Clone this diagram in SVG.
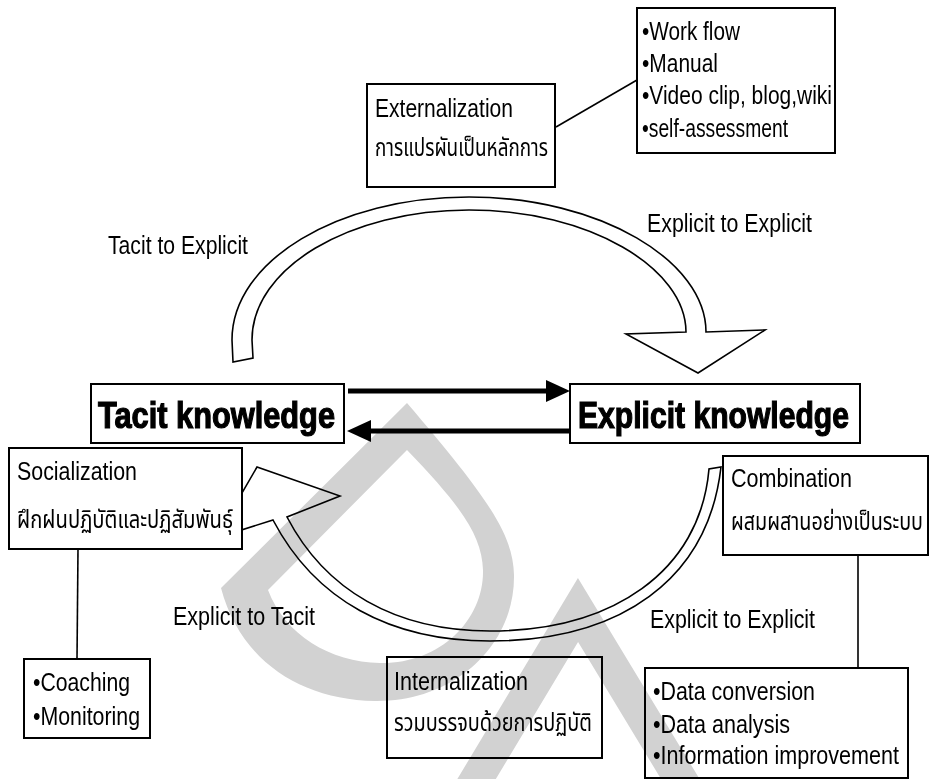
<svg xmlns="http://www.w3.org/2000/svg" width="929" height="779" viewBox="0 0 929 779">
<style>
.box{fill:#fff;stroke:#000;stroke-width:2}
.ln{fill:none;stroke:#000;stroke-width:1.6}
.band{fill:#fff;stroke:#000;stroke-width:1.6;stroke-linejoin:miter}
.t{font-family:"Liberation Sans Narrow","Liberation Sans",Arial,sans-serif;font-size:26px;fill:#000}
.th{font-family:"Noto Sans Thai","Noto Sans","DejaVu Sans","Liberation Sans",sans-serif;font-size:24px;fill:#000}
.big{font-family:"Liberation Sans",Arial,sans-serif;font-size:36px;font-weight:bold;fill:#000;stroke:#000;stroke-width:1.2}
.wm{fill:#d2d2d2;mix-blend-mode:multiply}
</style>
<rect width="929" height="779" fill="#fff"/>

<g id="connectors">
  <path class="band" d="M 233 362 L 232 340 C 232 261 338 197 469 197 C 600 197 706 261 706 332 L 765 330 L 698 373 L 626 334 L 686 332 C 686 268 589 210 469 210 C 349 210 252 268 252 340 L 253 358 Z"/>
  <path class="band" d="M 273 520 C 315 600 390 641 490 641 C 620 641 708 580 721 467 L 709 469 C 700 572 612 631 490 631 C 395 631 325 590 287 517 L 340 496 L 257 467 L 216 538 Z"/>
  <line x1="348" y1="391" x2="549" y2="391" stroke="#000" stroke-width="5"/>
  <polygon points="546,380 570,391 546,402" fill="#000"/>
  <line x1="569" y1="431" x2="368" y2="431" stroke="#000" stroke-width="5"/>
  <polygon points="371,420 347,431 371,442" fill="#000"/>
  <line class="ln" x1="556" y1="127" x2="637" y2="80"/>
  <line class="ln" x1="78" y1="549" x2="77" y2="659"/>
  <line class="ln" x1="858" y1="555" x2="858" y2="668"/>
</g>

<g id="labels">
  <text class="t" x="108" y="254" textLength="140" lengthAdjust="spacingAndGlyphs">Tacit to Explicit</text>
  <text class="t" x="647" y="232" textLength="165" lengthAdjust="spacingAndGlyphs">Explicit to Explicit</text>
  <text class="t" x="173" y="625" textLength="142" lengthAdjust="spacingAndGlyphs">Explicit to Tacit</text>
  <text class="t" x="650" y="628" textLength="165" lengthAdjust="spacingAndGlyphs">Explicit to Explicit</text>
</g>

<g id="node-tacit">
  <rect class="box" x="91" y="384" width="253" height="59"/>
  <text class="big" x="98" y="428" textLength="237" lengthAdjust="spacingAndGlyphs">Tacit knowledge</text>
</g>
<g id="node-explicit">
  <rect class="box" x="570" y="384" width="290" height="59"/>
  <text class="big" x="578" y="428" textLength="271" lengthAdjust="spacingAndGlyphs">Explicit knowledge</text>
</g>
<g id="node-externalization">
  <rect class="box" x="367" y="84" width="188" height="103"/>
  <text class="t" x="375" y="117" textLength="138" lengthAdjust="spacingAndGlyphs">Externalization</text>
  <text class="th" x="375" y="156" textLength="173" lengthAdjust="spacingAndGlyphs">การแปรผันเป็นหลักการ</text>
</g>
<g id="node-ext-tools">
  <rect class="box" x="637" y="8" width="198" height="145"/>
  <text class="t" x="642" y="40" textLength="98" lengthAdjust="spacingAndGlyphs">•Work flow</text>
  <text class="t" x="642" y="72" textLength="76" lengthAdjust="spacingAndGlyphs">•Manual</text>
  <text class="t" x="642" y="104" textLength="190" lengthAdjust="spacingAndGlyphs">•Video clip, blog,wiki</text>
  <text class="t" x="642" y="137" textLength="146" lengthAdjust="spacingAndGlyphs">•self-assessment</text>
</g>
<g id="node-socialization">
  <rect class="box" x="9" y="448" width="233" height="101"/>
  <text class="t" x="17" y="480" textLength="120" lengthAdjust="spacingAndGlyphs">Socialization</text>
  <text class="th" x="17" y="528" textLength="216" lengthAdjust="spacingAndGlyphs">ฝึกฝนปฏิบัติและปฏิสัมพันธุ์</text>
</g>
<g id="node-soc-tools">
  <rect class="box" x="24" y="659" width="126" height="79"/>
  <text class="t" x="33" y="691" textLength="97" lengthAdjust="spacingAndGlyphs">•Coaching</text>
  <text class="t" x="33" y="725" textLength="107" lengthAdjust="spacingAndGlyphs">•Monitoring</text>
</g>
<g id="node-combination">
  <rect class="box" x="723" y="456" width="205" height="99"/>
  <text class="t" x="731" y="487" textLength="121" lengthAdjust="spacingAndGlyphs">Combination</text>
  <text class="th" transform="translate(731,530) scale(0.8,1)" x="0" y="0" textLength="240" lengthAdjust="spacingAndGlyphs">ผสมผสานอย่างเป็นระบบ</text>
</g>
<g id="node-comb-tools">
  <rect class="box" x="645" y="668" width="263" height="110"/>
  <text class="t" x="653" y="700" textLength="162" lengthAdjust="spacingAndGlyphs">•Data conversion</text>
  <text class="t" x="653" y="733" textLength="137" lengthAdjust="spacingAndGlyphs">•Data analysis</text>
  <text class="t" transform="translate(653,764) scale(0.82,1)" x="0" y="0" textLength="300" lengthAdjust="spacingAndGlyphs">•Information improvement</text>
</g>
<g id="node-internalization">
  <rect class="box" x="387" y="657" width="215" height="101"/>
  <text class="t" x="394" y="690" textLength="134" lengthAdjust="spacingAndGlyphs">Internalization</text>
  <text class="th" x="394" y="731" textLength="198" lengthAdjust="spacingAndGlyphs">รวมบรรจบด้วยการปฏิบัติ</text>
</g>

<g id="watermark">
  <path class="wm" fill-rule="evenodd" d="M 407 403 L 221 588 C 240 660 300 700 375 701 C 455 702 515 645 514 575 C 513 535 490 500 407 403 Z M 407 450 L 268 590 C 285 635 330 662 380 663 C 440 664 484 620 483 570 C 482 535 460 505 407 450 Z"/>
  <polyline points="467,795 578,610 690,795" fill="none" stroke="#d2d2d2" stroke-width="33" style="mix-blend-mode:multiply"/>
</g>
</svg>
